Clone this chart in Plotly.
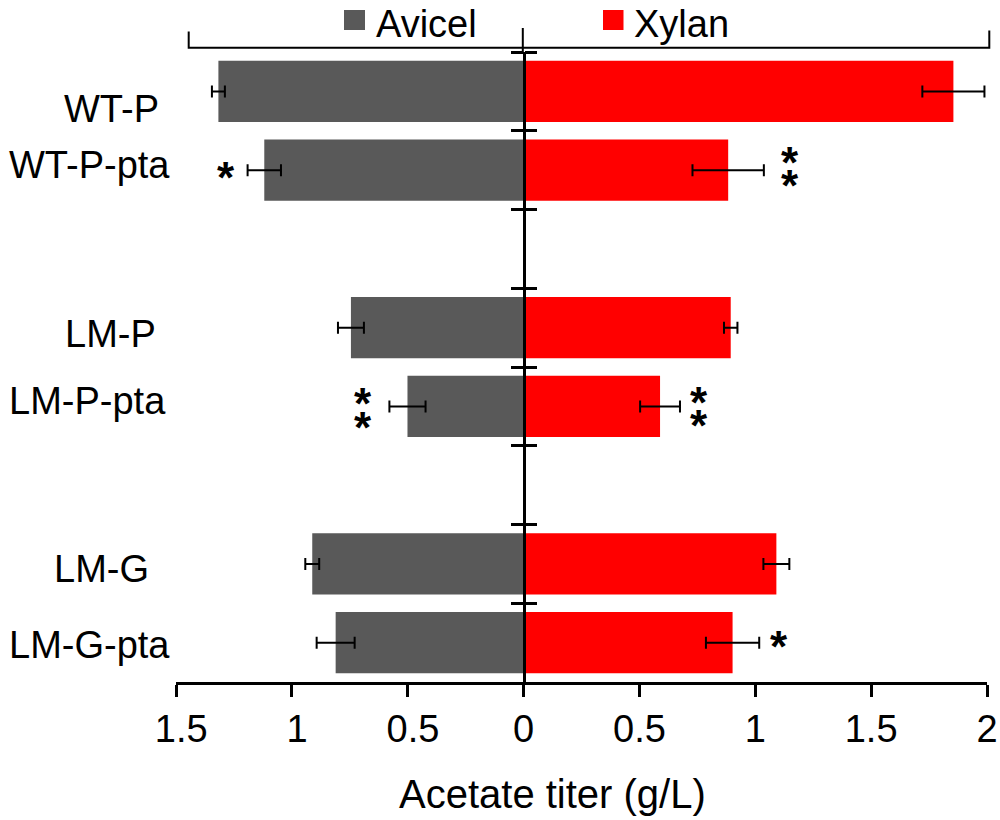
import plotly.graph_objects as go

# ---------------- data ----------------
categories = ["WT-P", "WT-P-pta", " ", "LM-P", "LM-P-pta", "  ", "LM-G", "LM-G-pta"]
avicel = [1.317, 1.119, None, 0.745, 0.501, None, 0.912, 0.811]
avicel_err = [0.028, 0.072, None, 0.056, 0.078, None, 0.030, 0.082]
xylan = [1.855, 0.883, None, 0.894, 0.589, None, 1.091, 0.902]
xylan_err = [0.134, 0.154, None, 0.029, 0.086, None, 0.056, 0.115]
avicel_sig = ["", "*", "", "", "**", "", "", ""]
xylan_sig = ["", "**", "", "", "**", "", "", "*"]
series_names = ["Avicel", "Xylan"]
tick_vals = [-1.5, -1, -0.5, 0, 0.5, 1, 1.5, 2]
tick_text = ["\u00a01.5", "\u00a01", "\u00a00.5", "0", "0.5", "1", "1.5", "2"]
x_title = "Acetate titer (g/L)"

# ---------------- style ----------------
FONT = "Liberation Sans, Arial, sans-serif"
GRAY = "#595959"
RED = "#FF0000"
W, H = 1000, 820
ML, MR, MT, MB = 176, 13, 52, 138
XMIN, XMAX = -1.5, 2.0
ZERO_PAPER = (0 - XMIN) / (XMAX - XMIN)

def px2paper_x(px):
    return (px - ML) / (W - ML - MR)

def py2paper_y(py):
    return 1 - (py - MT) / (H - MT - MB)

label_right_px = [161, 172, None, 158, 168, None, 151, 172]
label_dy = [18, -5, 0, 6, -5, 0, 5.5, 2.5]
avicel_sig_style = {"WT-P-pta": (-22, [2]), "LM-P-pta": (-26, [-8, 16])}
xylan_sig_style = {"WT-P-pta": (26, [-13, 10]), "LM-P-pta": (19, [-9, 14]), "LM-G-pta": (20, [-1])}
STAR_SIZE = 44
STAR_RAISE = 0.12 * STAR_SIZE  # asterisk glyph sits above the middle of its text box

def neg(v):
    return None if v is None else -v

def z(v):
    return 0 if v is None else v

fig = go.Figure()
fig.add_trace(go.Bar(
    y=categories, x=[neg(v) for v in avicel], orientation="h", name=series_names[0],
    marker=dict(color=GRAY, line=dict(width=0)), width=0.78,
    error_x=dict(type="data", array=[z(e) for e in avicel_err], symmetric=True,
                 color="black", thickness=2, width=6),
    showlegend=False, hoverinfo="skip"))
fig.add_trace(go.Bar(
    y=categories, x=xylan, orientation="h", name=series_names[1],
    marker=dict(color=RED, line=dict(width=0)), width=0.78,
    error_x=dict(type="data", array=[z(e) for e in xylan_err], symmetric=True,
                 color="black", thickness=2, width=6),
    showlegend=False, hoverinfo="skip"))
# invisible helper trace so the second (right-hand tick) y axis is drawn
fig.add_trace(go.Scatter(y=categories, x=[0] * len(categories), yaxis="y2", mode="markers",
                         marker=dict(opacity=0), showlegend=False, hoverinfo="skip"))

annotations = []
# category labels
for cat, rpx, dy in zip(categories, label_right_px, label_dy):
    if rpx is None:
        continue
    annotations.append(dict(text=cat, x=0, xref="paper", y=cat, yref="y",
                            xanchor="right", yanchor="middle", xshift=rpx - ML, yshift=-dy,
                            showarrow=False, font=dict(family=FONT, size=38, color="black")))
# significance asterisks
for sig, vals, errs, style, sign in [(avicel_sig, avicel, avicel_err, avicel_sig_style, -1),
                                      (xylan_sig, xylan, xylan_err, xylan_sig_style, 1)]:
    for cat, s, v, e in zip(categories, sig, vals, errs):
        if not s:
            continue
        xs, yoffs = style[cat]
        for yo in yoffs:
            annotations.append(dict(text="*", x=sign * (v + e), xref="x", y=cat, yref="y",
                                    xanchor="center", yanchor="middle", xshift=xs,
                                    yshift=-yo - STAR_RAISE, showarrow=False,
                                    font=dict(family=FONT, size=STAR_SIZE, color="black", weight="bold")))
# legend text
for name, lx in zip(series_names, [374, 632]):
    annotations.append(dict(text=name, x=px2paper_x(lx), xref="paper", y=py2paper_y(0.5), yref="paper",
                            xanchor="left", yanchor="top", showarrow=False,
                            font=dict(family=FONT, size=38, color="black")))
# x axis title
annotations.append(dict(text=x_title, x=px2paper_x(552.5), xref="paper", y=py2paper_y(794), yref="paper",
                        xanchor="center", yanchor="middle", showarrow=False,
                        font=dict(family=FONT, size=40, color="black")))

shapes = []
# legend swatches
for col, (x0, x1) in zip([GRAY, RED], [(344, 365), (603, 623.5)]):
    shapes.append(dict(type="rect", xref="paper", yref="paper",
                       x0=px2paper_x(x0), x1=px2paper_x(x1), y0=py2paper_y(10), y1=py2paper_y(30),
                       fillcolor=col, line=dict(width=0)))
# bracket above the legend
bx0, bx1, bxm, by = px2paper_x(188.7), px2paper_x(989.3), px2paper_x(522.8), py2paper_y(47.7)
shapes.append(dict(type="path", xref="paper", yref="paper",
                   path=f"M {bx0},{py2paper_y(31.5)} L {bx0},{by} L {bx1},{by} L {bx1},{py2paper_y(30.5)}",
                   line=dict(color="black", width=2)))
shapes.append(dict(type="line", xref="paper", yref="paper", x0=bxm, x1=bxm,
                   y0=py2paper_y(28), y1=py2paper_y(52), line=dict(color="black", width=2)))

yaxis_common = dict(type="category", categoryorder="array", categoryarray=categories,
                    range=[len(categories) - 0.5, -0.5], tickson="boundaries",
                    ticks="outside", ticklen=12, tickwidth=2.6, tickcolor="black",
                    showticklabels=False, showgrid=False, zeroline=False,
                    anchor="free", position=ZERO_PAPER)

fig.update_layout(
    width=W, height=H,
    margin=dict(l=ML, r=MR, t=MT, b=MB, autoexpand=False),
    paper_bgcolor="white", plot_bgcolor="white",
    barmode="overlay",
    font=dict(family=FONT, color="black"),
    xaxis=dict(range=[XMIN, XMAX], tickvals=tick_vals, ticktext=tick_text,
               ticks="outside", ticklen=12, tickwidth=2.6, tickcolor="black",
               ticklabelstandoff=0,
               showline=True, linewidth=2.6, linecolor="black",
               showgrid=False, zeroline=False,
               tickfont=dict(family=FONT, size=38, color="black")),
    yaxis=dict(showline=True, linewidth=2.7, linecolor="black", side="left", **yaxis_common),
    yaxis2=dict(showline=False, side="right", overlaying="y", **yaxis_common),
    annotations=annotations,
    shapes=shapes,
    showlegend=False,
)

fig.write_html("out.html", config={"displayModeBar": False},
               post_script="document.body.style.margin='0';")
